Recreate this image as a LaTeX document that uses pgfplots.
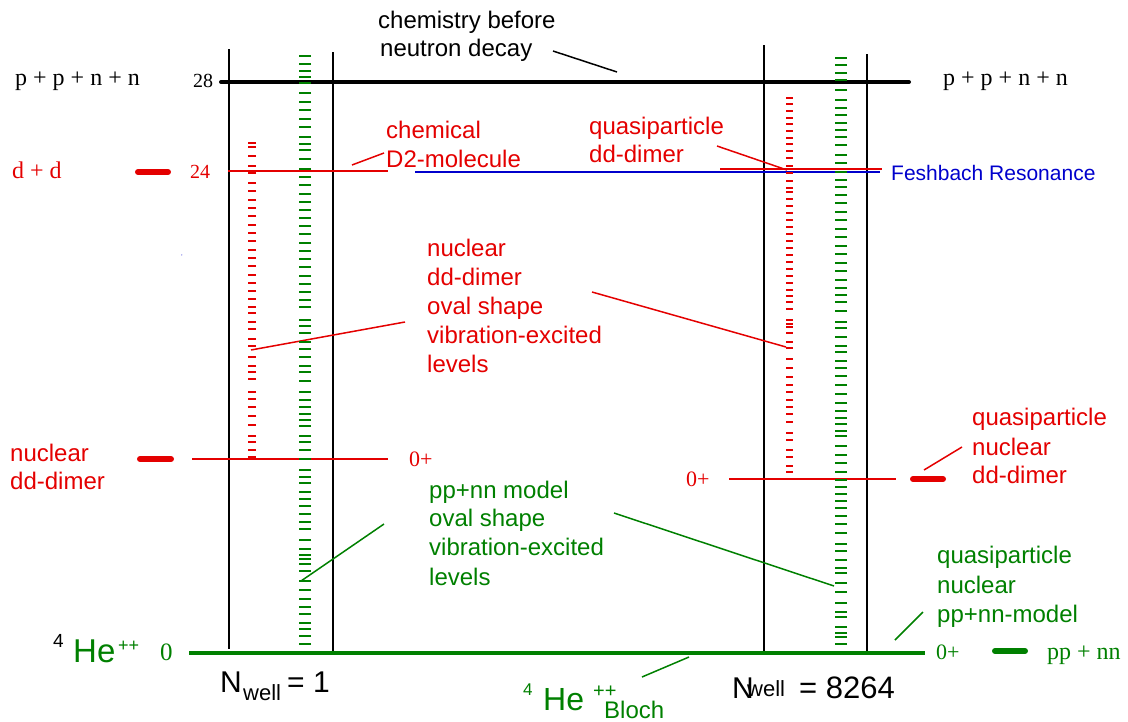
\documentclass[border=0pt]{standalone}
\usepackage{pgfplots}
\pgfplotsset{compat=1.18}
\usepackage{pgfplotstable}
\usepackage{fontspec}
\setmainfont{Liberation Sans}
\newfontfamily\tms{Liberation Serif}
\definecolor{rd}{RGB}{228,0,0}
\definecolor{gr}{RGB}{0,128,0}
\definecolor{bl}{RGB}{0,0,204}
\newcommand\fs[1]{\fontsize{#1}{#1}\selectfont}
\tikzset{t/.style={inner sep=0pt,anchor=base west}}

% level ladders: y positions in picture pixels (y down)
\pgfplotstableread[row sep=\\]{y\\56\\64\\71\\77\\83\\93\\102\\110\\119\\127\\137\\144\\150\\159\\169\\177\\185\\194\\202\\210\\218\\226\\234\\243\\251\\259\\267\\276\\284\\292\\300\\307\\320\\326\\333\\342\\349\\357\\366\\372\\381\\392\\400\\407\\414\\420\\426\\436\\442\\450\\459\\470\\477\\483\\492\\499\\506\\514\\522\\529\\540\\549\\555\\559\\564\\571\\581\\590\\599\\607\\614\\623\\629\\636\\644\\}\greenleft
\pgfplotstableread[row sep=\\]{y\\143\\147\\156\\166\\173\\183\\191\\200\\208\\216\\225\\233\\241\\250\\258\\266\\275\\283\\291\\299\\307\\313\\322\\329\\339\\346\\357\\366\\372\\379\\392\\399\\407\\416\\425\\436\\442\\450\\457\\}\redleft
\pgfplotstableread[row sep=\\]{y\\98\\104\\111\\118\\124\\131\\138\\144\\151\\158\\166\\173\\181\\188\\192\\199\\206\\213\\220\\227\\234\\241\\248\\255\\262\\269\\276\\283\\290\\296\\302\\309\\320\\324\\327\\333\\342\\348\\359\\368\\377\\385\\392\\400\\407\\414\\422\\433\\440\\450\\457\\466\\472\\}\redright
\pgfplotstableread[row sep=\\]{y\\58\\65\\73\\80\\90\\100\\108\\115\\123\\130\\137\\145\\155\\163\\172\\180\\187\\195\\203\\212\\220\\229\\237\\246\\254\\263\\271\\280\\288\\295\\302\\311\\322\\328\\337\\346\\352\\361\\368\\376\\385\\394\\403\\411\\418\\424\\431\\436\\446\\455\\463\\472\\480\\487\\494\\501\\508\\516\\524\\533\\544\\551\\560\\568\\573\\583\\592\\603\\612\\617\\627\\633\\637\\644\\}\greenright

\begin{document}
\begin{tikzpicture}
\begin{axis}[width=1128pt,height=721pt,scale only axis,
  xmin=0,xmax=1128,ymin=0,ymax=721,y dir=reverse,
  hide axis,clip=false]

% ladders
\addplot[gr,only marks,mark=-,mark size=6pt,line width=1.6pt] table[x expr=305,y=y]{\greenleft};
\addplot[rd,only marks,mark=-,mark size=4pt,line width=1.6pt] table[x expr=252,y=y]{\redleft};
\addplot[rd,only marks,mark=-,mark size=3.5pt,line width=1.6pt] table[x expr=789,y=y]{\redright};
\addplot[gr,only marks,mark=-,mark size=6pt,line width=1.6pt] table[x expr=841,y=y]{\greenright};

% well walls
\addplot[black,line width=2pt] coordinates {(229,49) (229,649)};
\addplot[black,line width=2pt] coordinates {(333,52) (333,653)};
\addplot[black,line width=2pt] coordinates {(764,45) (764,652)};
\addplot[black,line width=2pt] coordinates {(867,54) (867,655)};

% levels
\addplot[black,line width=4pt,line cap=round] coordinates {(221,82) (909,82)};
\addplot[gr,line width=4pt] coordinates {(189,653) (925,653)};
\addplot[rd,line width=2pt] coordinates {(228,171) (388,171)};
\addplot[bl,line width=1.5pt] coordinates {(415,172) (880,172)};
\addplot[rd,line width=2pt] coordinates {(720,169) (882,169)};
\addplot[rd,line width=2pt] coordinates {(192,459) (388,459)};
\addplot[rd,line width=2pt] coordinates {(729,479) (896,479)};

% short level bars
\addplot[rd,line width=6pt,line cap=round] coordinates {(138,172) (168,172)};
\addplot[rd,line width=6pt,line cap=round] coordinates {(140,459) (171,459)};
\addplot[rd,line width=6pt,line cap=round] coordinates {(913,479) (943,479)};
\addplot[gr,line width=6pt,line cap=round] coordinates {(995,651) (1025,651)};

% pointer lines
\addplot[black,line width=1.5pt] coordinates {(553,51) (617,72)};
\addplot[rd,line width=1.5pt] coordinates {(352,165) (384,153)};
\addplot[rd,line width=1.5pt] coordinates {(717,146) (787,170)};
\addplot[rd,line width=1.5pt] coordinates {(251,350) (405,322)};
\addplot[rd,line width=1.5pt] coordinates {(592,292) (786,347)};
\addplot[gr,line width=1.5pt] coordinates {(384,524) (301,581)};
\addplot[gr,line width=1.5pt] coordinates {(614,513) (834,586)};
\addplot[gr,line width=1.5pt] coordinates {(895,640) (923,612)};
\addplot[rd,line width=1.5pt] coordinates {(924,470) (962,447)};
\addplot[gr,line width=1.5pt] coordinates {(642,677) (689,657)};

% texts, black
\node[t] at (axis cs:378,28) {\fs{24}chemistry before};
\node[t] at (axis cs:380,56) {\fs{24}neutron decay};
\node[t] at (axis cs:15,85) {\tms\fs{24}p + p + n + n};
\node[t] at (axis cs:943,85) {\tms\fs{24}p + p + n + n};
\node[t] at (axis cs:193,87) {\tms\fs{20}28};

% texts, red
\node[t,rd] at (axis cs:12,178) {\tms\fs{24}d + d};
\node[t,rd] at (axis cs:190,178) {\tms\fs{20}24};
\node[t,rd] at (axis cs:386,138) {\fs{24}chemical};
\node[t,rd] at (axis cs:386,167) {\fs{24}D2-molecule};
\node[t,rd] at (axis cs:589,134) {\fs{24}quasiparticle};
\node[t,rd] at (axis cs:589,162) {\fs{24}dd-dimer};
\node[t,rd] at (axis cs:427,256) {\fs{24}nuclear};
\node[t,rd] at (axis cs:427,285) {\fs{24}dd-dimer};
\node[t,rd] at (axis cs:427,314) {\fs{24}oval shape};
\node[t,rd] at (axis cs:427,343) {\fs{24}vibration-excited};
\node[t,rd] at (axis cs:427,372) {\fs{24}levels};
\node[t,rd] at (axis cs:10,461) {\fs{24}nuclear};
\node[t,rd] at (axis cs:10,489) {\fs{24}dd-dimer};
\node[t,rd] at (axis cs:409,466) {\tms\fs{22}0+};
\node[t,rd] at (axis cs:686,486) {\tms\fs{22}0+};
\node[t,rd] at (axis cs:972,425) {\fs{24}quasiparticle};
\node[t,rd] at (axis cs:972,455) {\fs{24}nuclear};
\node[t,rd] at (axis cs:972,483) {\fs{24}dd-dimer};

% texts, blue
\node[t,bl] at (axis cs:891,180) {\fs{21}Feshbach Resonance};
\node[t,bl] at (axis cs:181,255) {\fs{6},};

% texts, green
\node[t,gr] at (axis cs:429,498) {\fs{24}pp+nn model};
\node[t,gr] at (axis cs:429,526) {\fs{24}oval shape};
\node[t,gr] at (axis cs:429,555) {\fs{24}vibration-excited};
\node[t,gr] at (axis cs:429,585) {\fs{24}levels};
\node[t,gr] at (axis cs:937,563) {\fs{24}quasiparticle};
\node[t,gr] at (axis cs:937,593) {\fs{24}nuclear};
\node[t,gr] at (axis cs:937,622) {\fs{24}pp+nn-model};
\node[t,gr] at (axis cs:936,659) {\tms\fs{22}0+};
\node[t,gr] at (axis cs:1047,659) {\tms\fs{24}pp + nn};

% 4He++ 0 (left)
\node[t] at (axis cs:53,647) {\fs{19}4};
\node[t,gr] at (axis cs:73,662) {\fs{33}He};
\node[t,gr] at (axis cs:118,651) {\fs{18}++};
\node[t,gr] at (axis cs:160,660) {\tms\fs{25}0};

% 4He++ Bloch
\node[t,gr] at (axis cs:523,695) {\fs{17}4};
\node[t,gr] at (axis cs:543,710) {\fs{32}He};
\node[t,gr] at (axis cs:593,697) {\fs{20}++};
\node[t,gr] at (axis cs:604,718) {\fs{24}Bloch};

% N_well labels
\node[t] at (axis cs:220,692) {\fs{30}N};
\node[t] at (axis cs:243,700) {\fs{22}well};
\node[t] at (axis cs:287,692) {\fs{30}= 1};
\node[t] at (axis cs:732,698) {\fs{30}N};
\node[t] at (axis cs:747,696) {\fs{22}well};
\node[t] at (axis cs:799,698) {\fs{31}= 8264};

\end{axis}
\pgfresetboundingbox
\path (current axis.south west) rectangle (current axis.north east);
\end{tikzpicture}
\end{document}
